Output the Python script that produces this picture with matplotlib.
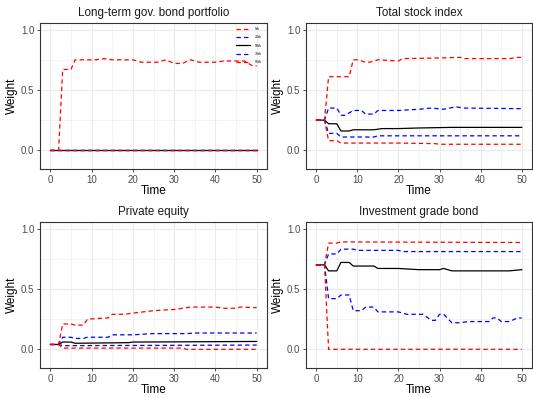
import matplotlib.pyplot as plt

plt.rcParams['font.family'] = ['Liberation Sans', 'DejaVu Sans']

# ----- Data (time knots, weight values)
titles = ['Long-term gov. bond portfolio', 'Total stock index', 'Private equity', 'Investment grade bond']
labels = ['5th', '25th', '50th', '75th', '95th']

# Long-term gov. bond portfolio
gov_p95_t = [0, 2, 3, 5, 6, 10, 11, 13, 15, 20, 22, 26, 28, 30, 32, 34, 36, 40, 42, 47, 49, 50]
gov_p95_v = [0, 0, 0.67, 0.67, 0.75, 0.75, 0.75, 0.76, 0.75, 0.75, 0.73, 0.73, 0.75, 0.72, 0.72, 0.75, 0.73, 0.73, 0.74, 0.74, 0.70, 0.70]
gov_flat_t = [0, 50]
gov_flat_v = [0, 0]

# Total stock index
stk_p95_t = [0, 2, 3, 8, 9, 10, 12, 13, 15, 20, 21, 30, 35, 36, 47, 49, 50]
stk_p95_v = [0.25, 0.25, 0.61, 0.61, 0.75, 0.75, 0.73, 0.73, 0.75, 0.74, 0.76, 0.765, 0.77, 0.76, 0.76, 0.77, 0.77]
stk_p75_t = [0, 2, 3, 5, 6, 7, 9, 11, 12, 14, 15, 20, 25, 28, 31, 34, 36, 50]
stk_p75_v = [0.25, 0.25, 0.35, 0.35, 0.29, 0.29, 0.33, 0.33, 0.30, 0.30, 0.33, 0.33, 0.34, 0.35, 0.34, 0.36, 0.35, 0.345]
stk_p50_t = [0, 2, 3, 5, 6, 8, 9, 14, 16, 20, 25, 33, 50]
stk_p50_v = [0.25, 0.25, 0.22, 0.22, 0.16, 0.16, 0.17, 0.17, 0.18, 0.18, 0.185, 0.19, 0.19]
stk_p25_t = [0, 2, 3, 5, 6, 14, 15, 50]
stk_p25_v = [0.25, 0.25, 0.14, 0.14, 0.11, 0.11, 0.12, 0.12]
stk_p05_t = [0, 2, 3, 5, 6, 20, 29, 30, 50]
stk_p05_v = [0.25, 0.25, 0.08, 0.08, 0.06, 0.06, 0.055, 0.05, 0.05]

# Private equity
pe_p95_t = [0, 2, 3, 5, 6, 8, 9, 14, 15, 18, 20, 25, 30, 32, 34, 40, 42, 45, 46, 50]
pe_p95_v = [0.04, 0.04, 0.21, 0.21, 0.20, 0.20, 0.25, 0.26, 0.29, 0.29, 0.30, 0.32, 0.33, 0.34, 0.35, 0.35, 0.34, 0.34, 0.35, 0.345]
pe_p75_t = [0, 2, 3, 5, 6, 8, 9, 14, 15, 20, 25, 33, 35, 50]
pe_p75_v = [0.04, 0.04, 0.10, 0.10, 0.09, 0.09, 0.10, 0.10, 0.12, 0.12, 0.13, 0.13, 0.135, 0.135]
pe_p50_t = [0, 2, 3, 5, 6, 19, 20, 50]
pe_p50_v = [0.04, 0.04, 0.06, 0.06, 0.05, 0.055, 0.06, 0.065]
pe_p25_t = [0, 2, 3, 50]
pe_p25_v = [0.04, 0.04, 0.03, 0.035]
pe_p05_t = [0, 2, 3, 32, 33, 50]
pe_p05_v = [0.04, 0.04, 0.01, 0.01, 0.0, 0.0]

# Investment grade bond
ig_p95_t = [0, 2, 3, 5, 6, 50]
ig_p95_v = [0.70, 0.70, 0.88, 0.88, 0.89, 0.885]
ig_p75_t = [0, 2, 3, 5, 6, 9, 10, 20, 21, 50]
ig_p75_v = [0.70, 0.70, 0.79, 0.79, 0.83, 0.83, 0.82, 0.82, 0.81, 0.81]
ig_p50_t = [0, 2, 3, 5, 6, 8, 9, 14, 15, 20, 25, 30, 31, 33, 47, 50]
ig_p50_v = [0.70, 0.70, 0.65, 0.65, 0.72, 0.72, 0.69, 0.69, 0.67, 0.67, 0.66, 0.66, 0.67, 0.65, 0.65, 0.66]
ig_p25_t = [0, 2, 3, 5, 6, 8, 9, 11, 12, 14, 15, 20, 22, 26, 28, 29, 30, 31, 33, 35, 37, 42, 43, 44, 45, 47, 49, 50]
ig_p25_v = [0.70, 0.70, 0.42, 0.42, 0.45, 0.45, 0.32, 0.32, 0.35, 0.35, 0.31, 0.31, 0.29, 0.29, 0.24, 0.24, 0.29, 0.29, 0.22, 0.22, 0.23, 0.23, 0.26, 0.26, 0.23, 0.23, 0.26, 0.26]
ig_p05_t = [0, 2, 3, 50]
ig_p05_v = [0.70, 0.70, 0.0, 0.0]

panels = [
    [(gov_flat_t, gov_flat_v), (gov_flat_t, gov_flat_v), (gov_flat_t, gov_flat_v), (gov_flat_t, gov_flat_v), (gov_p95_t, gov_p95_v)],
    [(stk_p05_t, stk_p05_v), (stk_p25_t, stk_p25_v), (stk_p50_t, stk_p50_v), (stk_p75_t, stk_p75_v), (stk_p95_t, stk_p95_v)],
    [(pe_p05_t, pe_p05_v), (pe_p25_t, pe_p25_v), (pe_p50_t, pe_p50_v), (pe_p75_t, pe_p75_v), (pe_p95_t, pe_p95_v)],
    [(ig_p05_t, ig_p05_v), (ig_p25_t, ig_p25_v), (ig_p50_t, ig_p50_v), (ig_p75_t, ig_p75_v), (ig_p95_t, ig_p95_v)],
]

colors = ['red', 'blue', 'black', 'blue', 'red']
dash = (0, (3.5, 2.5))
styles = [dash, dash, '-', dash, dash]
# blues first, then the median, then the reds on top
draw_order = [1, 3, 2, 0, 4]

# ----- Layout in pixels
W, H = 533, 398
boxes = [(40, 23, 267, 169), (306, 23, 532, 169), (40, 222, 267, 368), (306, 222, 532, 368)]

fig = plt.figure(figsize=(W / 100, H / 100), dpi=100)

for k, (x0, y0, x1, y1) in enumerate(boxes):
    ax = fig.add_axes([x0 / W, 1 - y1 / H, (x1 - x0) / W, (y1 - y0) / H])
    lines = {}
    for i in draw_order:
        t, v = panels[k][i]
        lines[i], = ax.plot(t, v, color=colors[i], linestyle=styles[i], linewidth=0.9, label=labels[i])
    ax.set_xlim(-2.5, 52.5)
    ax.set_ylim(-0.155, 1.055)
    ax.set_xticks([0, 10, 20, 30, 40, 50])
    ax.set_yticks([0.0, 0.5, 1.0])
    ax.set_yticklabels(['0.0', '0.5', '1.0'])
    ax.set_xticks([5, 15, 25, 35, 45], minor=True)
    ax.set_yticks([0.25, 0.75], minor=True)
    ax.grid(True, which='major', color='#EBEBEB', linewidth=0.8)
    ax.grid(True, which='minor', color='#EBEBEB', linewidth=0.4)
    ax.set_axisbelow(True)
    for s in ax.spines.values():
        s.set_color('#333333')
        s.set_linewidth(0.8)
    ax.tick_params(which='major', length=2.5, width=0.6, color='#333333', labelsize=7,
                   labelcolor='#4D4D4D', pad=1.5)
    ax.tick_params(which='minor', length=0)
    ax.set_title(titles[k], fontsize=8.4, color='#1A1A1A', pad=5)
    ax.set_xlabel('Time', fontsize=8.5, labelpad=0)
    ax.set_ylabel('Weight', fontsize=8.5, labelpad=2)
    if k == 0:
        ax.legend([lines[i] for i in range(5)], labels, loc='upper right', bbox_to_anchor=(0.99, 0.99),
                  fontsize=2.5, frameon=False, handlelength=4, labelspacing=1.2,
                  handletextpad=1.5, borderpad=0.3)

fig.savefig('out.png', dpi=100)
